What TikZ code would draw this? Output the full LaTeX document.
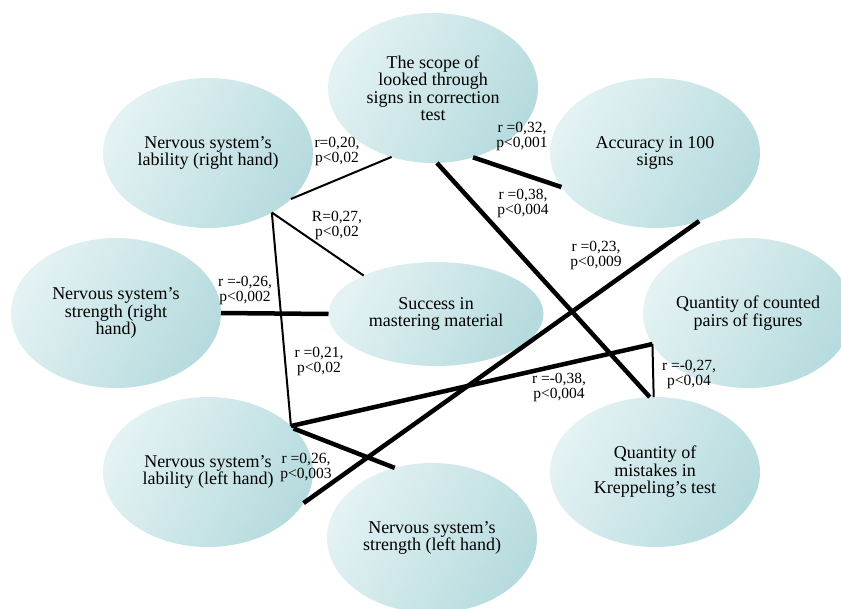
\documentclass[tikz,border=0pt]{standalone}
\usepackage{fontspec}
\setmainfont{Liberation Serif}
\usetikzlibrary{shapes.geometric}
\definecolor{ovallight}{HTML}{E4F2F3}
\definecolor{ovaldark}{HTML}{B6DBDE}

\begin{document}
\begin{tikzpicture}[x=1pt, y=-1pt, line width=2pt,
    oval/.style={ellipse, minimum width=210pt, minimum height=150pt, inner sep=0pt, outer sep=0pt,
        top color=ovallight, bottom color=ovaldark, shading angle=60,
        align=center, font=\fontsize{18}{17.5}\selectfont},
    coef/.style={align=center, inner sep=0pt, font=\fontsize{15.5}{15}\selectfont},
    strong/.style={line width=4.5pt}]
    \useasboundingbox (0,0) rectangle (841,608);

    % Ellipsen.
    \node[oval] (scope) at (433,88) {The scope of\\looked through\\signs in correction\\test};
    \node[oval] (labR) at (208,153) {Nervous system's\\lability (right hand)};
    \node[oval] (acc) at (655,153) {Accuracy in 100\\signs};
    \node[oval] (strR) at (116,313) {Nervous system's\\strength (right\\hand)};
    \node[oval, minimum width=215pt, minimum height=104pt] (succ) at (436,314) {Success in\\mastering material};
    \node[oval] (pairs) at (748,313) {Quantity of counted\\pairs of figures};
    \node[oval] (labL) at (208,472) {Nervous system's\\lability (left hand)};
    \node[oval] (strL) at (432,538) {Nervous system's\\strength (left hand)};
    \node[oval] (mist) at (655,472) {Quantity of\\mistakes in\\Kreppeling's test};

    % Linien.
    \draw (labR.-29) -- (scope.-121);
    \draw (labR.-43) coordinate (knotR) -- (succ.152);
    \draw (knotR) -- (labL.29);
    \draw[strong] (strR.east) -- (succ.west);
    \draw[strong] (labL.29) -- (pairs.198) coordinate (knotP);
    \draw (knotP) -- (mist.91);
    \draw[strong] (scope.-87) -- (mist.94);
    \draw[strong] (scope.-60) -- (acc.200);
    \draw[strong] (acc.-57) -- (labL.-18);
    \draw[strong] (labL.27) -- (strL.118);

    % Beschriftung.
    \node[coef] (c1) at (337,151) {r=0,20,\\p<0,02};
    \node[coef] (c2) at (337,225) {R=0,27,\\p<0,02};
    \node[coef] (c3) at (319,361) {r =0,21,\\p<0,02};
    \node[coef] (c4) at (245,290) {r =-0,26,\\p<0,002};
    \node[coef] (c5) at (559,387) {r =-0,38,\\p<0,004};
    \node[coef] (c6) at (689,374) {r =-0,27,\\p<0,04};
    \node[coef] (c7) at (523,203) {r =0,38,\\p<0,004};
    \node[coef] (c8) at (522,136) {r =0,32,\\p<0,001};
    \node[coef] (c9) at (596,255) {r =0,23,\\p<0,009};
    \node[coef] (c10) at (306,467) {r =0,26,\\p<0,003};
\end{tikzpicture}
\end{document}
